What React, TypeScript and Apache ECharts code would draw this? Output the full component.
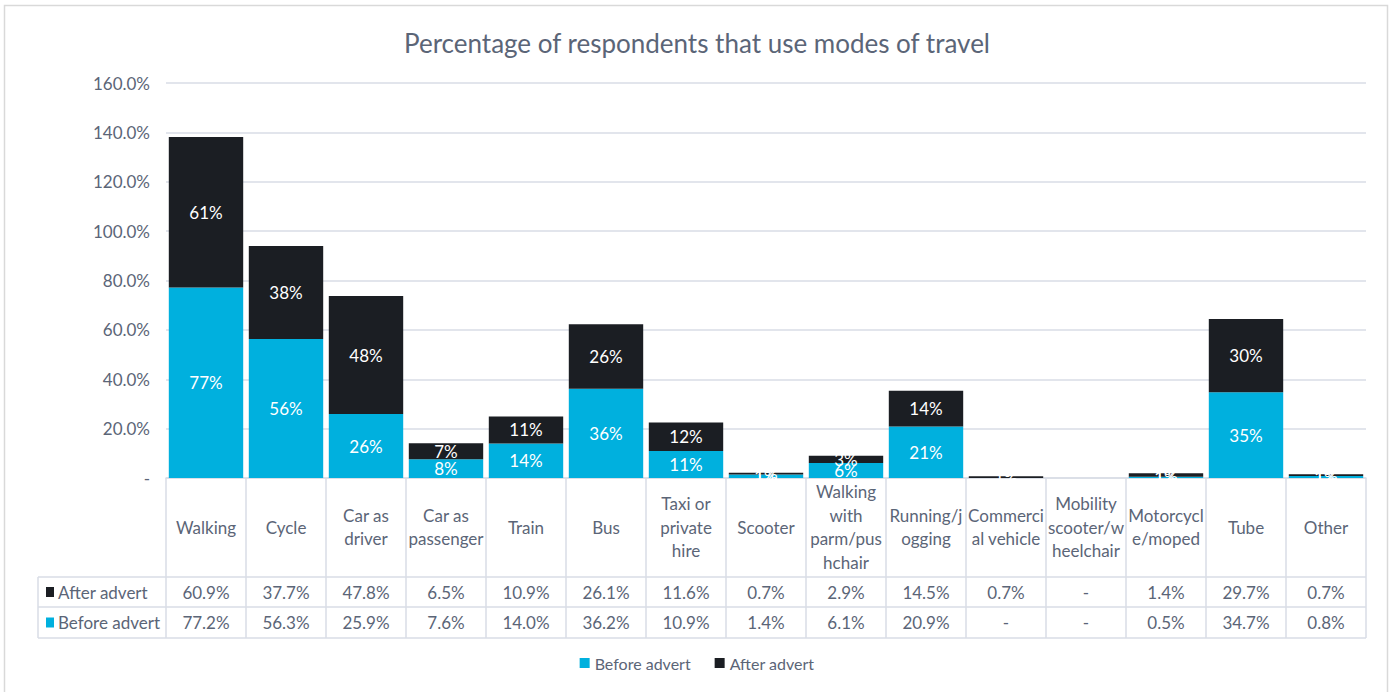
import React, { useEffect, useRef } from "react";
import * as echarts from "echarts";

const TITLE = "Percentage of respondents that use modes of travel";
const categoryLabels = [
  "Walking",
  "Cycle",
  "Car as\ndriver",
  "Car as\npassenger",
  "Train",
  "Bus",
  "Taxi or\nprivate\nhire",
  "Scooter",
  "Walking\nwith\nparm/pus\nhchair",
  "Running/j\nogging",
  "Commerci\nal vehicle",
  "Mobility\nscooter/w\nheelchair",
  "Motorcycl\ne/moped",
  "Tube",
  "Other",
];
const beforeAdvert: (number | null)[] = [77.2, 56.3, 25.9, 7.6, 14.0, 36.2, 10.9, 1.4, 6.1, 20.9, null, null, 0.5, 34.7, 0.8];
const afterAdvert: (number | null)[] = [60.9, 37.7, 47.8, 6.5, 10.9, 26.1, 11.6, 0.7, 2.9, 14.49, 0.7, null, 1.4, 29.7, 0.7];
const yTicks = { min: 0, max: 160, interval: 20 };

const BEFORE_COLOR = "#00B0DE";
const AFTER_COLOR = "#1B1E23";
const TEXT = "#5B6577";
const LINE = "#D9DDE6";
const FONT = "Lato";

const fmtCell = (v: number | null) => (v == null ? "-" : v.toFixed(1) + "%");

export default function App() {
  const ref = useRef<HTMLDivElement>(null);
  useEffect(() => {
    document.body.style.margin = "0";
    const chart = echarts.init(ref.current!, null, { renderer: "svg" });
    const left = 166;
    const right = 28;
    const axisY = 478;
    const tableLeft = 38;
    const tableRight = 1394 - right;
    const rowA = 577;
    const rowB = 607;
    const rowC = 638;

    const hidden = {
      axisLine: { show: false },
      axisTick: { show: false },
      splitLine: { show: false },
    };
    const cellLabel = (margin: number) => ({
      interval: 0,
      margin,
      verticalAlign: "middle",
      color: TEXT,
      fontFamily: FONT,
      fontSize: 17,
      hideOverlap: false,
    });
    const barLabel = {
      show: true,
      position: "inside",
      color: "#fff",
      fontFamily: FONT,
      fontSize: 17,
      formatter: (p: any) => Math.round(p.value) + "%",
    };

    chart.setOption({
      animation: false,
      textStyle: { fontFamily: FONT },
      title: {
        text: TITLE,
        left: "center",
        top: 25,
        textStyle: { color: TEXT, fontFamily: FONT, fontSize: 26, fontWeight: "normal" },
      },
      legend: {
        bottom: 16,
        left: "center",
        icon: "rect",
        itemWidth: 10,
        itemHeight: 10,
        itemGap: 24,
        textStyle: { color: TEXT, fontFamily: FONT, fontSize: 16 },
        data: ["Before advert", "After advert"],
      },
      grid: { left, right, top: 83, bottom: 692 - axisY, containLabel: false },
      xAxis: [
        {
          type: "category",
          data: categoryLabels,
          axisLine: { show: true, lineStyle: { color: LINE, width: 1.5 } },
          axisTick: { show: true, interval: 0, length: rowC - axisY, lineStyle: { color: LINE, width: 1.5 } },
          axisLabel: { ...cellLabel(49), lineHeight: 23.5 },
        },
        {
          type: "category",
          data: afterAdvert.map(fmtCell),
          position: "bottom",
          ...hidden,
          axisLabel: cellLabel(rowA - axisY + 15),
        },
        {
          type: "category",
          data: beforeAdvert.map(fmtCell),
          position: "bottom",
          ...hidden,
          axisLabel: cellLabel(rowB - axisY + 15.5),
        },
      ],
      yAxis: {
        type: "value",
        min: yTicks.min,
        max: yTicks.max,
        interval: yTicks.interval,
        axisLine: { show: false },
        axisTick: { show: false },
        splitLine: { lineStyle: { color: LINE, width: 1.5 } },
        axisLabel: {
          margin: 16,
          color: TEXT,
          fontFamily: FONT,
          fontSize: 17,
          formatter: (v: number) => (v === 0 ? "-" : v.toFixed(1) + "%"),
        },
      },
      series: [
        {
          name: "Before advert",
          type: "bar",
          stack: "total",
          barCategoryGap: "7%",
          itemStyle: { color: BEFORE_COLOR },
          data: beforeAdvert,
          label: barLabel,
        },
        {
          name: "After advert",
          type: "bar",
          stack: "total",
          barCategoryGap: "7%",
          itemStyle: { color: AFTER_COLOR },
          data: afterAdvert,
          label: barLabel,
        },
      ],
      graphic: [
        {
          type: "rect",
          shape: { x: 4.5, y: 5.5, width: 1383, height: 700 },
          style: { fill: "none", stroke: "#D9D9D9", lineWidth: 1.5 },
          z: -1,
        },
        ...[rowA, rowB, rowC].map((y) => ({
          type: "line",
          shape: { x1: tableLeft, y1: y, x2: tableRight, y2: y },
          style: { stroke: LINE, lineWidth: 1.5 },
        })),
        {
          type: "line",
          shape: { x1: tableLeft, y1: rowA, x2: tableLeft, y2: rowC },
          style: { stroke: LINE, lineWidth: 1.5 },
        },
        {
          type: "rect",
          shape: { x: 46, y: (rowA + rowB) / 2 - 5, width: 8, height: 10 },
          style: { fill: AFTER_COLOR },
        },
        {
          type: "text",
          x: 58,
          y: (rowA + rowB) / 2,
          style: { text: "After advert", fill: TEXT, font: `17px ${FONT}`, verticalAlign: "middle" },
        },
        {
          type: "rect",
          shape: { x: 46, y: (rowB + rowC) / 2 - 5, width: 8, height: 10 },
          style: { fill: BEFORE_COLOR },
        },
        {
          type: "text",
          x: 58,
          y: (rowB + rowC) / 2,
          style: { text: "Before advert", fill: TEXT, font: `17px ${FONT}`, verticalAlign: "middle" },
        },
      ],
    });
    return () => chart.dispose();
  }, []);
  return <div ref={ref} style={{ width: 1394, height: 692 }} />;
}
